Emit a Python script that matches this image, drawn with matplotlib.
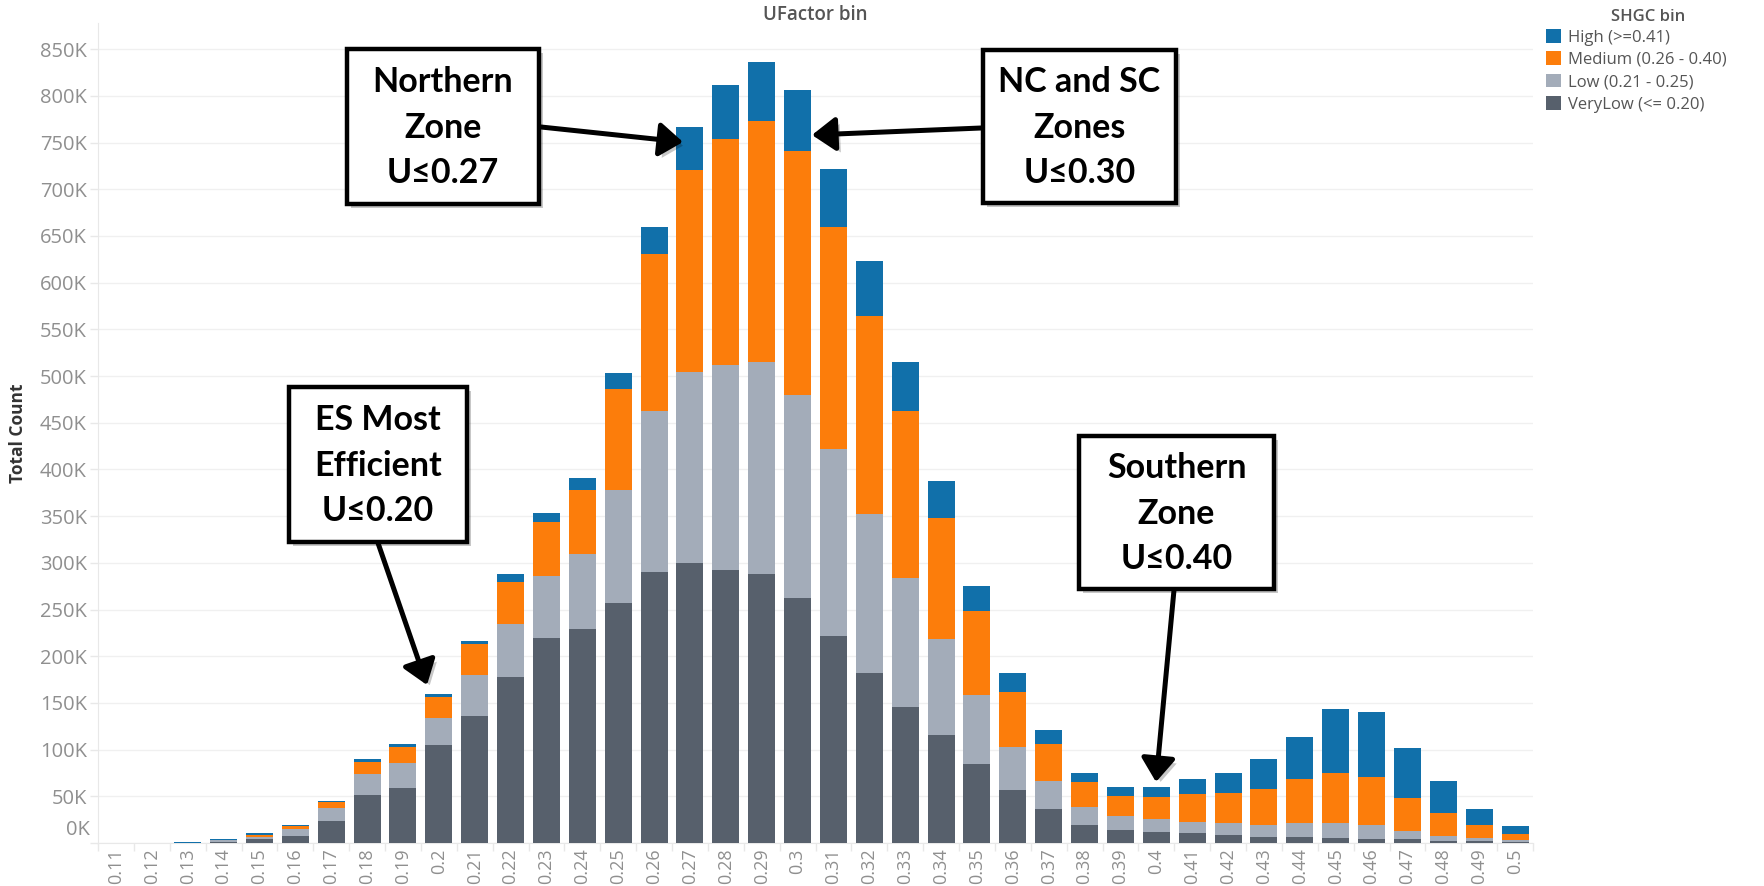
import matplotlib
matplotlib.use('Agg')
import matplotlib.pyplot as plt
import numpy as np
from matplotlib.patches import Rectangle, FancyArrowPatch, Patch
import matplotlib.patheffects as pe

# ---------------- data (counts in thousands) ----------------
ufactor_bins = ['0.11', '0.12', '0.13', '0.14', '0.15', '0.16', '0.17', '0.18', '0.19', '0.2',
                '0.21', '0.22', '0.23', '0.24', '0.25', '0.26', '0.27', '0.28', '0.29', '0.3',
                '0.31', '0.32', '0.33', '0.34', '0.35', '0.36', '0.37', '0.38', '0.39', '0.4',
                '0.41', '0.42', '0.43', '0.44', '0.45', '0.46', '0.47', '0.48', '0.49', '0.5']

very_low_k = [0, 0, 0.2, 1.5, 4, 7.5, 23.2, 51.1, 58.9, 105,
              135.7, 177.7, 219, 229, 257, 290.3, 299.8, 292.2, 288.3, 262,
              221.8, 181.8, 146, 116.1, 84.4, 56.9, 36.5, 19, 13.6, 11.7,
              10.7, 9, 6.9, 6.9, 5.8, 4.7, 4, 2.1, 2.1, 1.5]
low_k = [0, 0, 0.2, 1.2, 2.5, 7.2, 14.3, 23.2, 26.5, 28.6,
         44.4, 56.7, 67, 80, 120.5, 172.1, 204.7, 219.2, 226.9, 217.7,
         199.7, 170, 137.4, 102.3, 73.8, 45.8, 29.5, 19.1, 15.7, 13.8,
         12.2, 12.1, 12.1, 14.2, 15.3, 14.3, 8.5, 5.4, 3.3, 1.4]
medium_k = [0, 0, 0.1, 0.5, 2.5, 3.5, 6.1, 12.5, 17.5, 22.4,
            33, 44.8, 57.5, 69.3, 108.5, 168, 215.8, 242.6, 258.3, 261,
            238.4, 212.8, 178.8, 129.3, 89.9, 58.6, 39.9, 26.8, 21.4, 24.1,
            30, 32.9, 38.9, 47.1, 54.3, 51.4, 36.1, 24.6, 13.6, 6.7]
high_k = [0, 0, 0.8, 0.8, 1.4, 1.1, 1.8, 2.9, 3.1, 3.3,
          3.7, 8.4, 9.5, 12.5, 17.5, 28.7, 46.4, 57.4, 62.4, 65.3,
          61.6, 58.2, 52.3, 39.4, 27.6, 20.3, 15.6, 10.3, 9.2, 10.3,
          15.3, 21.4, 31.8, 45.8, 68.6, 70.4, 53.2, 34, 17.4, 8.3]

series_labels = ['High (>=0.41)', 'Medium (0.26 - 0.40)', 'Low (0.21 - 0.25)', 'VeryLow (<= 0.20)']
legend_title = 'SHGC bin'
y_ticks_k = list(range(0, 851, 50))

# ---------------- style ----------------
C_HIGH, C_MED, C_LOW, C_VL = '#1170aa', '#fc7d0b', '#a3acb9', '#57606c'
TICK_COLOR = '#8f8f8f'
LINE_COLOR = '#e8e8e8'
FONT = ['Open Sans', 'DejaVu Sans']
ANN_FONT = ['Lato', 'DejaVu Sans']

W, H = 1764, 886
fig = plt.figure(figsize=(W / 100, H / 100), dpi=100)
fig.patch.set_facecolor('white')

def fx(px):
    return px / W

def fy(py):
    return 1 - py / H

ax = fig.add_axes([fx(98), fy(843), (1533 - 98) / W, (843 - 23) / H])

x = np.arange(len(ufactor_bins))
bottom = np.zeros(len(x))
for vals, color in [(very_low_k, C_VL), (low_k, C_LOW), (medium_k, C_MED), (high_k, C_HIGH)]:
    v = np.array(vals, dtype=float)
    ax.bar(x, v, width=0.75, bottom=bottom, color=color, linewidth=0, zorder=3)
    bottom += v

ax.set_xlim(-0.46, 39.5)
ax.set_ylim(0, 878)

# y axis
ax.set_yticks(y_ticks_k)
ax.set_yticklabels([''] + [f'{v}K' for v in y_ticks_k[1:]])
ax.annotate('0K', xy=(0, 0), xycoords=('axes fraction', 'data'),
            xytext=(-8, 13), textcoords='offset pixels', ha='right', va='center',
            fontsize=14.5, color=TICK_COLOR, family=FONT, annotation_clip=False)
ax.tick_params(axis='y', length=6, color=LINE_COLOR, labelcolor=TICK_COLOR,
               labelsize=14.5, pad=2, width=1)
for lab in ax.get_yticklabels():
    lab.set_family(FONT)
ax.yaxis.grid(True, color='#f0f0f0', lw=1, zorder=0)
ax.set_axisbelow(True)

# x axis
ax.set_xticks(x)
ax.set_xticklabels(ufactor_bins, rotation=90, family=FONT)
ax.tick_params(axis='x', which='major', length=0, labelcolor=TICK_COLOR, labelsize=13, pad=4)
ax.set_xticks(np.arange(-0.5, 40, 1), minor=True)
ax.tick_params(axis='x', which='minor', length=6, color=LINE_COLOR, width=1)

for s in ['top', 'right']:
    ax.spines[s].set_visible(False)
ax.spines['left'].set_color(LINE_COLOR)
ax.spines['bottom'].set_color(LINE_COLOR)

# titles
fig.text(fx(815), fy(15), 'UFactor bin', ha='center', va='center', fontsize=13.5,
         color='#555555', fontweight='semibold', family=FONT)
fig.text(fx(18), fy(433), 'Total Count', ha='center', va='center', rotation=90,
         fontsize=12.5, color='#333333', fontweight='bold', family=FONT)

# legend
handles = [Patch(facecolor=c, edgecolor='none') for c in [C_HIGH, C_MED, C_LOW, C_VL]]
leg = fig.legend(handles, series_labels, loc='upper left',
                 bbox_to_anchor=(fx(1546), fy(29)), frameon=False,
                 prop={'family': FONT, 'size': 12},
                 handlelength=0.9, handleheight=0.9, handletextpad=0.45,
                 labelspacing=0.34, borderaxespad=0, borderpad=0)
for t in leg.get_texts():
    t.set_color('#555555')
fig.text(fx(1648), fy(17), legend_title, ha='center', va='center', fontsize=12,
         fontweight='semibold', color='#555555', family=FONT)

# annotations
shadow = [pe.SimplePatchShadow(offset=(3, -3), shadow_rgbFace='black', alpha=0.22), pe.Normal()]

def callout(x0, y0, x1, y1, text):
    r = Rectangle((fx(x0), fy(y1)), (x1 - x0) / W, (y1 - y0) / H, transform=fig.transFigure,
                  facecolor='white', edgecolor='black', lw=3.2, zorder=10, path_effects=shadow)
    fig.add_artist(r)
    fig.text(fx((x0 + x1) / 2), fy((y0 + y1) / 2 + 1), text, ha='center', va='center',
             fontsize=24.5, fontweight='bold', family=ANN_FONT, linespacing=1.52,
             color='black', zorder=11)

def arrow(xa, ya, xb, yb):
    a = FancyArrowPatch(posA=(fx(xa), fy(ya)), posB=(fx(xb), fy(yb)), transform=fig.transFigure,
                        arrowstyle='-|>,head_length=0.65,head_width=0.47', mutation_scale=22,
                        lw=3.6, color='black', shrinkA=0, shrinkB=0, zorder=12,
                        path_effects=shadow)
    fig.add_artist(a)

callout(347, 49, 539, 204, 'Northern\nZone\nU\u22640.27')
callout(983, 50, 1176, 203, 'NC and SC\nZones\nU\u22640.30')
callout(289, 387, 467, 542, 'ES Most\nEfficient\nU\u22640.20')
callout(1079, 436, 1274, 589, 'Southern\nZone\nU\u22640.40')

arrow(541, 127, 683, 142)
arrow(981, 128, 812, 135)
arrow(378, 543, 427, 685)
arrow(1174, 590, 1156, 782)

fig.savefig('out.png', dpi=100, facecolor='white')
